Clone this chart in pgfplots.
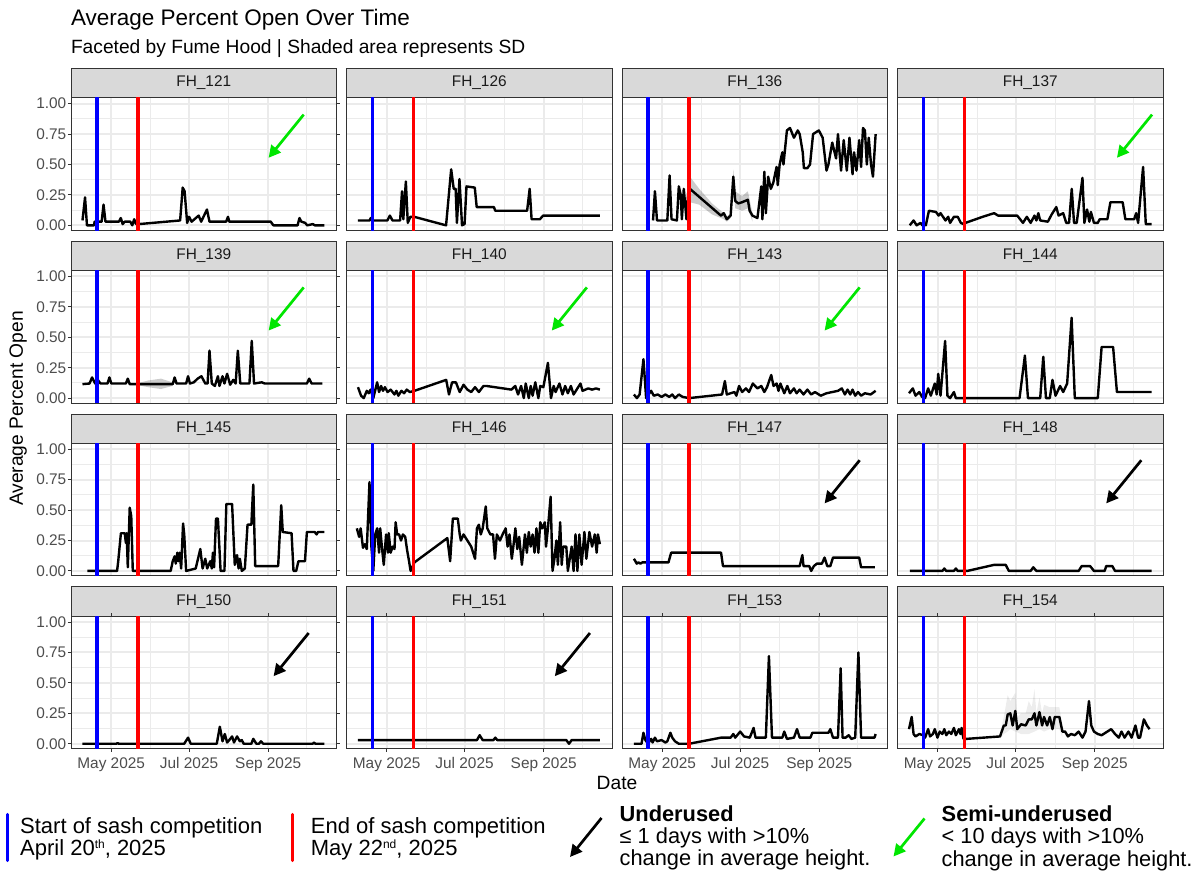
\documentclass[border=0pt]{standalone}
\usepackage{fontspec}
\setmainfont{Liberation Sans}
\usepackage{pgfplots}
\pgfplotsset{compat=1.18}
\usetikzlibrary{arrows.meta}
\definecolor{grey92}{HTML}{EBEBEB}
\definecolor{grey85}{HTML}{D9D9D9}
\definecolor{grey20}{HTML}{333333}
\definecolor{grey30}{HTML}{4D4D4D}
\definecolor{grey10}{HTML}{1A1A1A}
\definecolor{green2}{HTML}{00E600}
\newcommand\fs[1]{\fontsize{#1}{#1}\selectfont}
\pgfplotsset{
  fhpanel/.style={
    width=265.5pt, height=132.5pt, scale only axis, anchor=north west,
    xmin=89.5, xmax=297.5, ymin=-0.04, ymax=1.049,
    xtick={121,182,244}, minor xtick={152,213,274},
    ytick={0,0.25,0.5,0.75,1}, minor ytick={0.125,0.375,0.625,0.875},
    grid=both,
    major grid style={color=grey92, line width=2pt},
    minor grid style={color=grey92, line width=1pt},
    axis line style={draw=grey20, line width=0.9pt},
    tick align=outside, major tick length=3pt, minor tick length=0pt,
    tick style={color=grey20, line width=0.9pt},
    xticklabels={}, yticklabels={},
    tick label style={font=\fs{15.4}, text=grey30},
    xticklabel style={inner sep=5.5pt},
    yticklabel style={inner sep=1.5pt},
  },
  ylab/.style={yticklabels={0.00,0.25,0.50,0.75,1.00}},
  noy/.style={ytick style={draw=none}},
  xlab/.style={xticklabels={May 2025,Jul 2025,Sep 2025}},
  nox/.style={xtick style={draw=none}},
  dataline/.style={black, line width=2.4pt, line join=round},
  ribbon/.style={fill=black, fill opacity=0.2, draw=none},
  blueline/.style={color=blue, line width=3.6pt},
  redline/.style={color=red, line width=3.6pt},
}
\tikzset{
  arr/.style={-{Triangle[length=12pt,width=12pt]}, line width=2.7pt},
}
\newcommand\vlines{%
  \addplot[blueline] coordinates {(110,-0.2)(110,1.2)};
  \addplot[redline] coordinates {(142,-0.2)(142,1.2)};
}
\newcommand\strip[3]{%
  \draw[fill=grey85,draw=grey20,line width=0.9pt] (#1pt,-#2pt) rectangle ++(265.5pt,-29.2pt);
  \node[font=\fs{15.4},text=grey10,inner sep=0] at ([xshift=132.75pt,yshift=-14.6pt]#1pt,-#2pt) {#3};
}
\newcommand\garrow[1]{\draw[arr,green2] (axis cs:#1+27.5,0.91) -- (axis cs:#1,0.555);}
\newcommand\barrow[1]{\draw[arr,black] (axis cs:#1+27.5,0.91) -- (axis cs:#1,0.555);}
\begin{document}
\begin{tikzpicture}[x=1pt,y=1pt]
\useasboundingbox (0,0) rectangle (1199,-874);
\fill[white] (0,0) rectangle (1199,-874);
% titles
\node[anchor=base west, font=\fs{22.5}, inner sep=0] at (70.8pt,-26pt) {Average Percent Open Over Time};
\node[anchor=base west, font=\fs{19.2}, inner sep=0] at (70.8pt,-54pt) {Faceted by Fume Hood | Shaded area represents SD};
% strips
\strip{71}{68.5}{FH\_121}\strip{346.5}{68.5}{FH\_126}\strip{622}{68.5}{FH\_136}\strip{897.5}{68.5}{FH\_137}
\strip{71}{241.3}{FH\_139}\strip{346.5}{241.3}{FH\_140}\strip{622}{241.3}{FH\_143}\strip{897.5}{241.3}{FH\_144}
\strip{71}{414.1}{FH\_145}\strip{346.5}{414.1}{FH\_146}\strip{622}{414.1}{FH\_147}\strip{897.5}{414.1}{FH\_148}
\strip{71}{586.9}{FH\_150}\strip{346.5}{586.9}{FH\_151}\strip{622}{586.9}{FH\_153}\strip{897.5}{586.9}{FH\_154}

% ---------- Row 1
\begin{axis}[fhpanel, at={(71pt,-97.7pt)}, ylab, nox]
\addplot[dataline] coordinates {(98.5,0.04)(100.5,0.23)(102,0.0)(107.5,0.0)(108,0.03)(113.5,0.03)(115,0.17)(116.5,0.03)(127,0.03)(128.5,0.06)(130,0.01)(131.5,0.03)(136,0.03)(137.5,0.0)(139,0.05)(140.5,0.01)(142.5,0.01)(175,0.04)(177,0.31)(178.5,0.28)(180.5,0.02)(182,0.07)(184,0.03)(189.5,0.08)(191.5,0.03)(196,0.13)(198,0.03)(211,0.03)(212.5,0.07)(213.5,0.03)(246,0.03)(248,0.0)(267,0.0)(268.5,0.06)(270,0.03)(273,0.02)(274.5,0.0)(279,0.01)(280.5,0.0)(288,0.0)};
\vlines
\garrow{244.3}
\end{axis}
\begin{axis}[fhpanel, at={(346.5pt,-97.7pt)}, nox, noy]
\addplot[dataline] coordinates {(98.5,0.04)(107.5,0.04)(108.5,0.06)(109.5,0.04)(121.5,0.04)(123.5,0.08)(125.5,0.04)(131.5,0.04)(133,0.28)(134,0.05)(136,0.36)(137.5,0.02)(139.5,0.07)(142.5,0.07)(167.5,0.0)(171.5,0.46)(173.5,0.30)(175,0.30)(176,0.02)(178,0.38)(180,0.0)(182,0.01)(183.5,0.32)(190,0.31)(191.5,0.15)(205,0.15)(206,0.12)(231,0.12)(233,0.30)(234.5,0.05)(241,0.05)(243.5,0.08)(288,0.08)};
\vlines
\end{axis}
\begin{axis}[fhpanel, at={(622pt,-97.7pt)}, nox, noy]
\addplot[ribbon] coordinates {(142.7,0.40)(150,0.30)(160,0.18)(169.2,0.10)(171.6,0.07)(174.6,0.10)(176.7,0.46)(178.2,0.28)(183.6,0.24)(188.1,0.28)(191.7,0.10)(191.7,0.03)(188.1,0.14)(183.6,0.12)(178.2,0.14)(176.7,0.34)(174.6,0.06)(171.6,0.03)(169.2,0.05)(160,0.09)(150,0.17)(142.7,0.19)};
\addplot[dataline] coordinates {(113.8,0.04)(115.3,0.28)(116.9,0.04)(125,0.04)(126.8,0.41)(128.3,0.05)(132.5,0.04)(134,0.32)(135.5,0.25)(136.4,0.05)(137.9,0.30)(140,0.05)(141.5,0.29)(142.7,0.30)(167,0.08)(169.2,0.10)(171.6,0.05)(174.6,0.08)(176.7,0.40)(178.2,0.20)(180.6,0.18)(183.6,0.19)(188.1,0.21)(189.5,0.12)(191.7,0.08)(195.6,0.06)(198.6,0.32)(199.5,0.05)(201,0.44)(202.2,0.10)(204,0.40)(206.1,0.30)(208,0.35)(210.6,0.48)(211.5,0.33)(213,0.50)(215.1,0.60)(216,0.50)(218.7,0.78)(221.1,0.80)(224.2,0.72)(227.2,0.78)(228.7,0.75)(231.1,0.60)(232,0.47)(234.7,0.47)(236.8,0.50)(239.2,0.75)(243.7,0.78)(246.7,0.72)(249.7,0.45)(251.2,0.50)(254.2,0.68)(257.2,0.55)(258.7,0.75)(261.1,0.45)(263.2,0.70)(265.6,0.45)(267.7,0.72)(270.1,0.42)(271.3,0.60)(273.2,0.45)(275.3,0.70)(276.8,0.48)(278.3,0.80)(279.8,0.78)(281.3,0.50)(282.8,0.72)(284.6,0.50)(286.1,0.40)(288.2,0.75)};
\vlines
\end{axis}
\begin{axis}[fhpanel, at={(897.5pt,-97.7pt)}, nox, noy]
\addplot[dataline] coordinates {(99.1,0.0)(102.1,0.04)(104.5,0.0)(107.5,0.02)(109,0.0)(110.2,0.02)(111.7,0.0)(114.1,0.12)(119.6,0.11)(121.7,0.08)(123.2,0.10)(127.1,0.04)(129.2,0.07)(130.7,0.02)(133.7,0.07)(136.7,0.07)(139.1,0.02)(141.2,0.01)(142.7,0.02)(156.2,0.07)(165.2,0.10)(168.3,0.08)(183.3,0.08)(187.8,0.02)(190.8,0.07)(193.8,0.02)(196.8,0.08)(198.3,0.04)(199.8,0.10)(201.3,0.04)(207.3,0.03)(210.3,0.09)(213.9,0.15)(215.7,0.08)(219.3,0.10)(221.7,0.02)(223.9,0.02)(226,0.30)(227.8,0.02)(229.9,0.02)(234.4,0.39)(235.9,0.02)(238,0.13)(239.8,0.03)(241,0.11)(243.4,0.02)(246.4,0.02)(247.9,0.05)(253.9,0.05)(256.3,0.19)(265.9,0.19)(268,0.05)(274.9,0.05)(276.5,0.10)(278,0.02)(281.9,0.48)(284,0.01)(288.5,0.01)};
\vlines
\garrow{261.4}
\end{axis}

% ---------- Row 2
\begin{axis}[fhpanel, at={(71pt,-270.5pt)}, ylab, nox]
\addplot[ribbon] coordinates {(142.7,0.125)(150,0.145)(160,0.16)(169,0.13)(169,0.10)(160,0.075)(150,0.09)(142.7,0.105)};
\addplot[dataline] coordinates {(98.5,0.115)(104,0.12)(106,0.17)(108.4,0.12)(110.5,0.15)(112.6,0.12)(118.1,0.12)(119.6,0.17)(121.1,0.12)(132.5,0.12)(134,0.16)(135.5,0.115)(169.2,0.115)(170.7,0.17)(172.2,0.12)(179.7,0.12)(181.2,0.18)(182.7,0.12)(185.7,0.13)(188.7,0.16)(191.7,0.18)(194.7,0.12)(196.5,0.12)(198,0.39)(199.8,0.12)(202.2,0.10)(204.6,0.18)(205.8,0.10)(208.2,0.18)(209.7,0.12)(211.8,0.20)(214.2,0.11)(216.6,0.15)(218.5,0.12)(220.2,0.39)(222.1,0.12)(229.3,0.12)(231.1,0.47)(232.9,0.12)(238.9,0.13)(241.3,0.12)(274.3,0.12)(276.1,0.16)(278,0.12)(286.4,0.12)};
\vlines
\garrow{244.3}
\end{axis}
\begin{axis}[fhpanel, at={(346.5pt,-270.5pt)}, nox, noy]
\addplot[dataline] coordinates {(98.5,0.09)(100.9,0.02)(103,0.0)(105.4,0.06)(106.9,0.04)(108.4,0.07)(110.5,0.0)(113.5,0.13)(115,0.05)(116.6,0.10)(118.1,0.06)(119.6,0.09)(121.7,0.05)(124.1,0.07)(127.1,0.03)(128.6,0.06)(130.1,0.02)(132.5,0.06)(134.6,0.04)(136.7,0.07)(139.1,0.05)(142.7,0.06)(167.6,0.15)(169.8,0.03)(172.2,0.13)(175.2,0.13)(178.2,0.05)(181.2,0.11)(184.2,0.07)(187.2,0.05)(190.2,0.09)(193.2,0.05)(196.8,0.10)(199.2,0.10)(218.7,0.07)(221.7,0.10)(223.9,0.03)(226.3,0.10)(228.4,0.0)(229.9,0.12)(232.3,0.0)(233.8,0.10)(235.3,0.02)(237.4,0.13)(239.8,0.0)(241.3,0.10)(243.7,0.09)(247.3,0.29)(249.7,0.0)(251.8,0.10)(253.3,0.05)(256.3,0.12)(258.7,0.03)(260.8,0.10)(262.9,0.04)(265.3,0.10)(267.4,0.03)(269.8,0.07)(272.8,0.12)(274.4,0.06)(278.9,0.08)(281.9,0.07)(285,0.08)(288,0.07)};
\vlines
\garrow{250.3}
\end{axis}
\begin{axis}[fhpanel, at={(622pt,-270.5pt)}, nox, noy]
\addplot[dataline] coordinates {(98.8,0.03)(101.2,0.0)(103.3,0.03)(106.3,0.32)(108.4,0.0)(112.3,0.06)(114.4,0.02)(117.5,0.03)(120.5,0.01)(123.5,0.03)(126.5,0.01)(128.9,0.03)(131,0.0)(134,0.03)(137,0.01)(142.1,0.0)(167.9,0.03)(170.1,0.14)(171.6,0.03)(177.6,0.05)(179.1,0.02)(181.2,0.10)(183.6,0.05)(186.6,0.08)(189,0.05)(192,0.12)(195.6,0.08)(198.6,0.10)(201,0.05)(203.1,0.09)(206.4,0.19)(208.2,0.10)(210.6,0.12)(212.1,0.06)(213.6,0.12)(216.6,0.04)(219,0.10)(221.1,0.04)(224.2,0.08)(226.3,0.04)(228.7,0.07)(231.7,0.03)(234.7,0.07)(237.7,0.03)(240.7,0.05)(245.2,0.02)(249.7,0.04)(258.7,0.06)(261.7,0.08)(264.1,0.03)(266.2,0.07)(268.3,0.03)(270.1,0.07)(272.2,0.02)(274.4,0.05)(276.8,0.02)(279.8,0.04)(284.3,0.03)(288.2,0.06)};
\vlines
\garrow{248.2}
\end{axis}
\begin{axis}[fhpanel, at={(897.5pt,-270.5pt)}, nox, noy]
\addplot[dataline] coordinates {(98.5,0.04)(101.5,0.08)(103.6,0.02)(106.6,0.05)(108.7,0.01)(111.1,0.0)(113.5,0.08)(115.6,0.02)(118.7,0.12)(120.2,0.03)(121.4,0.20)(123.2,0.02)(126.8,0.47)(128.6,0.02)(130.7,0.0)(133.7,0.05)(135.2,0.0)(185.1,0.0)(189.3,0.35)(191.7,0.0)(201.3,0.0)(203.7,0.34)(205.8,0.0)(208.8,0.0)(210.9,0.15)(213.3,0.02)(216.9,0.10)(219.3,0.05)(222.4,0.12)(225.9,0.66)(228.4,0.0)(246.4,0.0)(249.4,0.42)(258.4,0.42)(261.4,0.05)(288.5,0.05)};
\vlines
\end{axis}

% ---------- Row 3
\begin{axis}[fhpanel, at={(71pt,-443.3pt)}, ylab, nox]
\addplot[dataline] coordinates {(102.4,0.0)(125.6,0.0)(126.5,0.08)(128.6,0.31)(131.6,0.31)(132.5,0.23)(133.1,0.31)(134,0.03)(135.5,0.52)(136.7,0.45)(137.9,0.0)(167.6,0.0)(169.2,0.08)(170.7,0.12)(171.6,0.06)(172.8,0.15)(173.7,0.08)(174.6,0.15)(175.8,0.02)(177.3,0.39)(178.2,0.30)(179.7,0.0)(187.2,0.02)(190.8,0.18)(192.6,0.02)(194.7,0.10)(196.2,0.02)(198.6,0.08)(199.8,0.02)(200.7,0.15)(201.6,0.03)(203.1,0.43)(204.6,0.43)(206.7,0.0)(209.7,0.0)(211.2,0.55)(215.7,0.55)(217.8,0.05)(219.6,0.13)(220.8,0.02)(221.8,0.10)(223.3,0.0)(225.7,0.02)(227.8,0.38)(230.8,0.38)(232.3,0.71)(233.8,0.04)(251.8,0.04)(254.2,0.54)(255.4,0.32)(262.3,0.31)(263.8,0.0)(265.9,0.0)(267.7,0.08)(272.8,0.08)(274.3,0.32)(280.4,0.32)(281.9,0.30)(283,0.32)(287.9,0.32)};
\vlines
\end{axis}
\begin{axis}[fhpanel, at={(346.5pt,-443.3pt)}, nox, noy]
\addplot[dataline] coordinates {(97.6,0.35)(99.4,0.28)(100.6,0.35)(102.4,0.19)(103.9,0.22)(105.4,0.18)(107.5,0.73)(109,0.20)(110.5,0.0)(112,0.30)(113.5,0.35)(115,0.15)(115.9,0.35)(117.2,0.20)(118.7,0.05)(120.5,0.30)(122,0.15)(122.6,0.31)(124.1,0.15)(125.6,0.20)(127.1,0.18)(128,0.40)(129.2,0.30)(130.7,0.30)(132.2,0.25)(133.7,0.30)(135.5,0.28)(137,0.17)(138.5,0.08)(139.7,0.0)(142.7,0.07)(168.5,0.27)(170.7,0.08)(172.8,0.43)(176.7,0.43)(178.2,0.30)(179.1,0.25)(181.2,0.30)(187.2,0.20)(190.2,0.10)(191.7,0.35)(193.2,0.38)(194.7,0.30)(196.2,0.35)(198.6,0.53)(199.8,0.35)(202.2,0.30)(204.3,0.30)(205.8,0.10)(207.3,0.30)(209.7,0.25)(211.8,0.30)(214.2,0.35)(215.7,0.20)(217.2,0.30)(219,0.10)(220.2,0.20)(221.8,0.35)(223.3,0.18)(224.8,0.28)(226.9,0.05)(229.3,0.30)(230.8,0.15)(232.3,0.32)(233.8,0.20)(235.3,0.30)(236.8,0.15)(238.3,0.35)(239.8,0.15)(241.3,0.40)(242.8,0.35)(244.9,0.40)(245.8,0.20)(247.3,0.35)(249.4,0.61)(250.9,0.0)(252.4,0.10)(253.9,0.25)(255.1,0.05)(256.9,0.40)(258.1,0.05)(259.3,0.20)(261.7,0.20)(262.9,0.0)(264.4,0.10)(265.9,0.20)(267.4,0.0)(268.9,0.30)(270.4,0.0)(271.9,0.30)(273.7,0.05)(275.9,0.32)(277.4,0.10)(279.8,0.32)(281.9,0.20)(284,0.30)(285.5,0.15)(286.5,0.30)(288,0.22)};
\vlines
\end{axis}
\begin{axis}[fhpanel, at={(622pt,-443.3pt)}, nox, noy]
\addplot[dataline] coordinates {(98.8,0.10)(100,0.08)(101,0.06)(102.4,0.07)(103.9,0.06)(105.4,0.07)(125.9,0.07)(128,0.15)(167.1,0.15)(168.6,0.04)(228.7,0.04)(230.8,0.13)(231.7,0.04)(236.2,0.04)(237.7,0.0)(239.8,0.04)(242.2,0.06)(246.1,0.06)(248.2,0.11)(250.3,0.04)(252.7,0.04)(254.8,0.11)(275.3,0.11)(276.8,0.03)(287.6,0.03)};
\vlines
\barrow{248.2}
\end{axis}
\begin{axis}[fhpanel, at={(897.5pt,-443.3pt)}, nox, noy]
\addplot[dataline] coordinates {(99.1,0.0)(124.7,0.0)(126.2,0.02)(127.7,0.0)(133.7,0.0)(135.2,0.02)(136.7,0.0)(144.2,0.0)(165.2,0.05)(174.3,0.05)(176.7,0.0)(193.8,0.0)(195.9,0.03)(198.3,0.0)(231.4,0.0)(233.8,0.04)(240.4,0.04)(243.4,0.0)(251.8,0.0)(253,0.04)(257.8,0.04)(259.9,0.0)(288.5,0.0)};
\vlines
\barrow{253.0}
\end{axis}

% ---------- Row 4
\begin{axis}[fhpanel, at={(71pt,-616.1pt)}, ylab, xlab]
\addplot[dataline] coordinates {(98.5,0.0)(125,0.0)(126,0.005)(127,0.0)(178.2,0.0)(181.2,0.05)(183.3,0.0)(203.7,0.0)(206.1,0.14)(208.2,0.02)(210,0.08)(211.8,0.01)(213.5,0.03)(215.7,0.06)(217.2,0.01)(219.6,0.06)(221.8,0.02)(223.3,0.03)(224.8,0.0)(230.8,0.0)(232.3,0.04)(234.7,0.0)(236.8,0.0)(238.3,0.02)(240.1,0.0)(278.9,0.0)(279.8,0.01)(281,0.0)(287.9,0.0)};
\vlines
\barrow{248.2}
\end{axis}
\begin{axis}[fhpanel, at={(346.5pt,-616.1pt)}, xlab, noy]
\addplot[dataline] coordinates {(98.5,0.03)(191.7,0.03)(193.8,0.07)(196.2,0.03)(204.6,0.03)(206.1,0.05)(207.6,0.03)(261.7,0.03)(263.8,0.0)(265.9,0.03)(288,0.03)};
\vlines
\barrow{252.7}
\end{axis}
\begin{axis}[fhpanel, at={(622pt,-616.1pt)}, xlab, noy]
\addplot[dataline] coordinates {(98.8,0.0)(104.8,0.0)(106.3,0.09)(107.8,0.03)(109.9,0.0)(112.3,0.04)(113.5,0.01)(115.3,0.05)(116.9,0.02)(120.5,0.03)(123.5,0.01)(125,0.02)(127.4,0.09)(128.9,0.05)(131,0.02)(134,0.0)(142.1,0.0)(167.1,0.05)(174.6,0.05)(176.7,0.08)(178.2,0.05)(182.1,0.10)(185.1,0.06)(189.6,0.05)(192.6,0.13)(194.1,0.05)(202.2,0.05)(204.6,0.72)(207,0.05)(215.1,0.05)(216.6,0.10)(218.7,0.04)(224.2,0.05)(226.6,0.12)(228.7,0.05)(237.1,0.05)(238.6,0.09)(251.2,0.09)(252.7,0.12)(254.8,0.05)(258.7,0.05)(260.8,0.62)(262.3,0.05)(264.7,0.05)(267.1,0.07)(269.2,0.04)(272.2,0.05)(274.7,0.75)(276.8,0.05)(287.3,0.05)(288.2,0.08)};
\vlines
\end{axis}
\begin{axis}[fhpanel, at={(897.5pt,-616.1pt)}, xlab, noy]
\addplot[ribbon, fill opacity=0.07] coordinates {(169.8,0.08)(172.8,0.22)(175.8,0.40)(177.9,0.35)(181.8,0.42)(183.3,0.22)(186.3,0.25)(189.9,0.25)(192.3,0.35)(194.7,0.30)(196.8,0.45)(198.3,0.25)(200.7,0.38)(202.8,0.25)(204.3,0.32)(208.8,0.30)(212.7,0.30)(216.3,0.30)(218.7,0.15)(218.7,0.05)(216.3,0.12)(212.7,0.12)(208.8,0.12)(204.3,0.10)(200.7,0.12)(196.8,0.10)(192.3,0.08)(186.3,0.08)(181.8,0.10)(177.9,0.12)(175.8,0.10)(172.8,0.08)(169.8,0.04)};
\addplot[dataline] coordinates {(98.5,0.12)(100.6,0.22)(102.1,0.08)(103.6,0.06)(106.6,0.08)(109.6,0.07)(111.1,0.05)(113.5,0.12)(115,0.06)(117.2,0.08)(118.7,0.12)(120.8,0.05)(122.6,0.10)(124.7,0.08)(126.2,0.12)(127.7,0.07)(129.8,0.10)(131.6,0.08)(133.7,0.13)(135.2,0.07)(137.6,0.12)(138.8,0.08)(139.7,0.13)(141.2,0.04)(143.6,0.04)(169.8,0.06)(172.8,0.15)(174.3,0.15)(175.8,0.24)(177.9,0.25)(179.7,0.15)(181.8,0.27)(183.3,0.12)(186.3,0.16)(189.9,0.15)(192.3,0.20)(194.7,0.20)(196.8,0.25)(198.3,0.15)(200.7,0.26)(202.8,0.15)(204.3,0.22)(206.7,0.15)(208.8,0.22)(210.9,0.12)(212.7,0.22)(216.3,0.22)(218.7,0.10)(220.8,0.10)(223,0.06)(225.4,0.08)(228.4,0.07)(231.4,0.10)(234.4,0.05)(236.8,0.10)(239.5,0.35)(241.3,0.15)(243.4,0.10)(246.4,0.08)(249.4,0.07)(253.9,0.10)(256.9,0.12)(259.9,0.08)(262.9,0.05)(265,0.10)(267.4,0.05)(270.4,0.10)(272.9,0.05)(275.9,0.15)(278,0.05)(279.5,0.05)(282.5,0.20)(284.9,0.15)(287,0.12)};
\vlines
\end{axis}

% axis titles
\node[rotate=90, anchor=base, font=\fs{19.2}, inner sep=0] at (23pt,-408.5pt) {Average Percent Open};
\node[anchor=base, font=\fs{19.2}, inner sep=0] at (617pt,-789pt) {Date};

% legend
\draw[blue, line width=3.3pt, line cap=round] (7.6pt,-814.5pt) -- (7.6pt,-860.5pt);
\node[anchor=base west, font=\fs{22}, inner sep=0] at (20pt,-833.3pt) {Start of sash competition};
\node[anchor=base west, font=\fs{22}, inner sep=0] at (20pt,-855pt) {April 20\raisebox{7pt}{\fs{12}th}, 2025};
\draw[red, line width=3.3pt, line cap=round] (292.8pt,-814.5pt) -- (292.8pt,-860.5pt);
\node[anchor=base west, font=\fs{22}, inner sep=0] at (310.7pt,-833.3pt) {End of sash competition};
\node[anchor=base west, font=\fs{22}, inner sep=0] at (310.7pt,-855pt) {May 22\raisebox{7pt}{\fs{12}nd}, 2025};
\draw[arr, black] (601.5pt,-818pt) -- (570pt,-857pt);
\node[anchor=base west, font=\fs{21.8}\bfseries, inner sep=0] at (619.5pt,-821.7pt) {Underused};
\node[anchor=base west, font=\fs{21.8}, inner sep=0] at (619.5pt,-843pt) {≤ 1 days with >10\%};
\node[anchor=base west, font=\fs{21.8}, inner sep=0] at (619.5pt,-865pt) {change in average height.};
\draw[arr, green2] (924.5pt,-818.5pt) -- (893.5pt,-856.5pt);
\node[anchor=base west, font=\fs{21.8}\bfseries, inner sep=0] at (941.5pt,-821.7pt) {Semi-underused};
\node[anchor=base west, font=\fs{21.8}, inner sep=0] at (941.5pt,-843.3pt) {< 10 days with >10\%};
\node[anchor=base west, font=\fs{21.8}, inner sep=0] at (941.5pt,-866pt) {change in average height.};
\end{tikzpicture}
\end{document}
